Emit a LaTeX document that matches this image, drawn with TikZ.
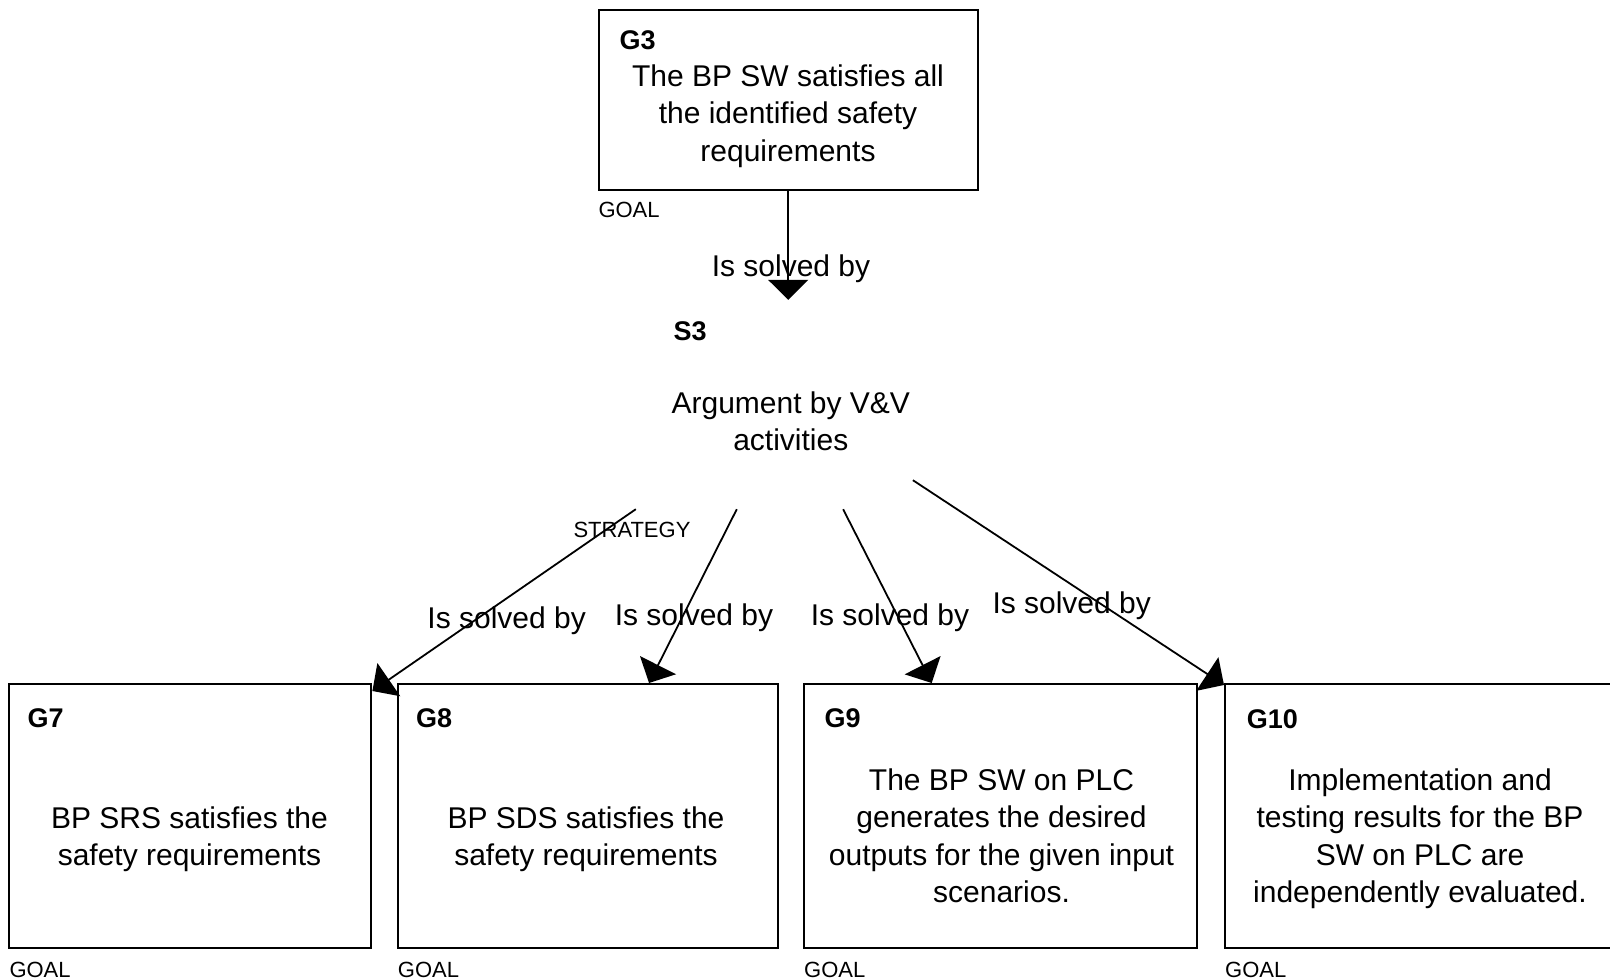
\documentclass[tikz,border=0pt]{standalone}
\usepackage{fontspec}
\setmainfont{Liberation Sans}
\usetikzlibrary{arrows.meta,calc}
\begin{document}
\begin{tikzpicture}[x=1pt,y=-1pt,
  box/.style={draw, line width=2pt, inner sep=0pt},
  txt/.style={anchor=base, inner sep=0pt, font=\fontsize{30}{37.5}\selectfont},
  idlbl/.style={anchor=base west, inner sep=0pt, font=\fontsize{27}{30}\selectfont\bfseries},
  typelbl/.style={anchor=base west, inner sep=0pt, font=\fontsize{22}{25}\selectfont},
  edge/.style={line width=1.8pt, -{Triangle[length=20pt,width=40pt]}},
  elbl/.style={anchor=base, inner sep=0pt, font=\fontsize{30}{36}\selectfont}]
\useasboundingbox (0,0) rectangle (1610,980);
\clip (0,0) rectangle (1610,980);

% boxes
\node[box, minimum width=379pt, minimum height=180pt] (g3) at (788.2,100.2) {};
\node[draw=none, inner sep=0pt, minimum width=306pt, minimum height=209pt] (s3) at (789,404.5) {};
\node[box, minimum width=362pt, minimum height=264pt] (g7) at (190.4,816) {};
\node[box, minimum width=380.6pt, minimum height=264pt] (g8) at (588,816) {};
\node[box, minimum width=393pt, minimum height=264pt] (g9) at (1000.5,816) {};
\node[box, minimum width=391.6pt, minimum height=264pt] (g10) at (1420.8,816) {};

% G3 contents
\node[idlbl] (g3id) at (619.3,49.3) {G3};
\node[txt] (g3a) at (788,86) {The BP SW satisfies all};
\node[txt] (g3b) at (788,123.5) {the identified safety};
\node[txt] (g3c) at (788,161) {requirements};
\node[typelbl] (g3type) at (598.3,217.3) {GOAL};

% S3 contents
\node[idlbl] (s3id) at (673.3,340) {S3};
\node[txt] (s3a) at (790.8,413.3) {Argument by V\&V};
\node[txt] (s3b) at (790.8,450) {activities};
\node[anchor=base west, inner sep=0pt, font=\fontsize{22}{26}\selectfont] (s3type) at (573.3,537.3) {STRATEGY};

% G7
\node[idlbl] (g7id) at (27.3,727) {G7};
\node[txt] (g7a) at (189.5,828.3) {BP SRS satisfies the};
\node[txt] (g7b) at (189.5,865) {safety requirements};
\node[typelbl] (g7type) at (9.3,977) {GOAL};

% G8
\node[idlbl] (g8id) at (416,727) {G8};
\node[txt] (g8a) at (586,828.3) {BP SDS satisfies the};
\node[txt] (g8b) at (586,865) {safety requirements};
\node[typelbl] (g8type) at (397.7,977) {GOAL};

% G9
\node[idlbl] (g9id) at (824.5,727) {G9};
\node[txt] (g9a) at (1001.5,790) {The BP SW on PLC};
\node[txt] (g9b) at (1001.5,827.5) {generates the desired};
\node[txt] (g9c) at (1001.5,865) {outputs for the given input};
\node[txt] (g9d) at (1001.5,902.5) {scenarios.};
\node[typelbl] (g9type) at (804,977) {GOAL};

% G10
\node[idlbl] (g10id) at (1246.7,728) {G10};
\node[txt] (g10a) at (1420,790) {Implementation and};
\node[txt] (g10b) at (1420,827.5) {testing results for the BP};
\node[txt] (g10c) at (1420,865) {SW on PLC are};
\node[txt] (g10d) at (1420,902.5) {independently evaluated.};
\node[typelbl] (g10type) at (1225,977) {GOAL};

% connectors
\draw[edge] (g3.south) -- (g3.south |- s3.north);
\draw[edge] (s3.south west) -- ([yshift=-8pt]g7.north east);
\draw[edge] ([xshift=101pt]s3.south west) -- ([xshift=252.3pt]g8.north west);
\draw[edge] ([xshift=207.3pt]s3.south west) -- ([xshift=128.7pt]g9.north west);
\draw[edge] ([xshift=-29.3pt,yshift=29pt]s3.south east) -- ([yshift=-2pt]g10.north west);

% connector labels
\node[elbl] (l1) at (791,276) {Is solved by};
\node[elbl] (l2) at (506.7,628) {Is solved by};
\node[elbl] (l3) at (694,625) {Is solved by};
\node[elbl] (l4) at (890,625) {Is solved by};
\node[elbl] (l5) at (1071.7,613.3) {Is solved by};
\end{tikzpicture}
\end{document}
